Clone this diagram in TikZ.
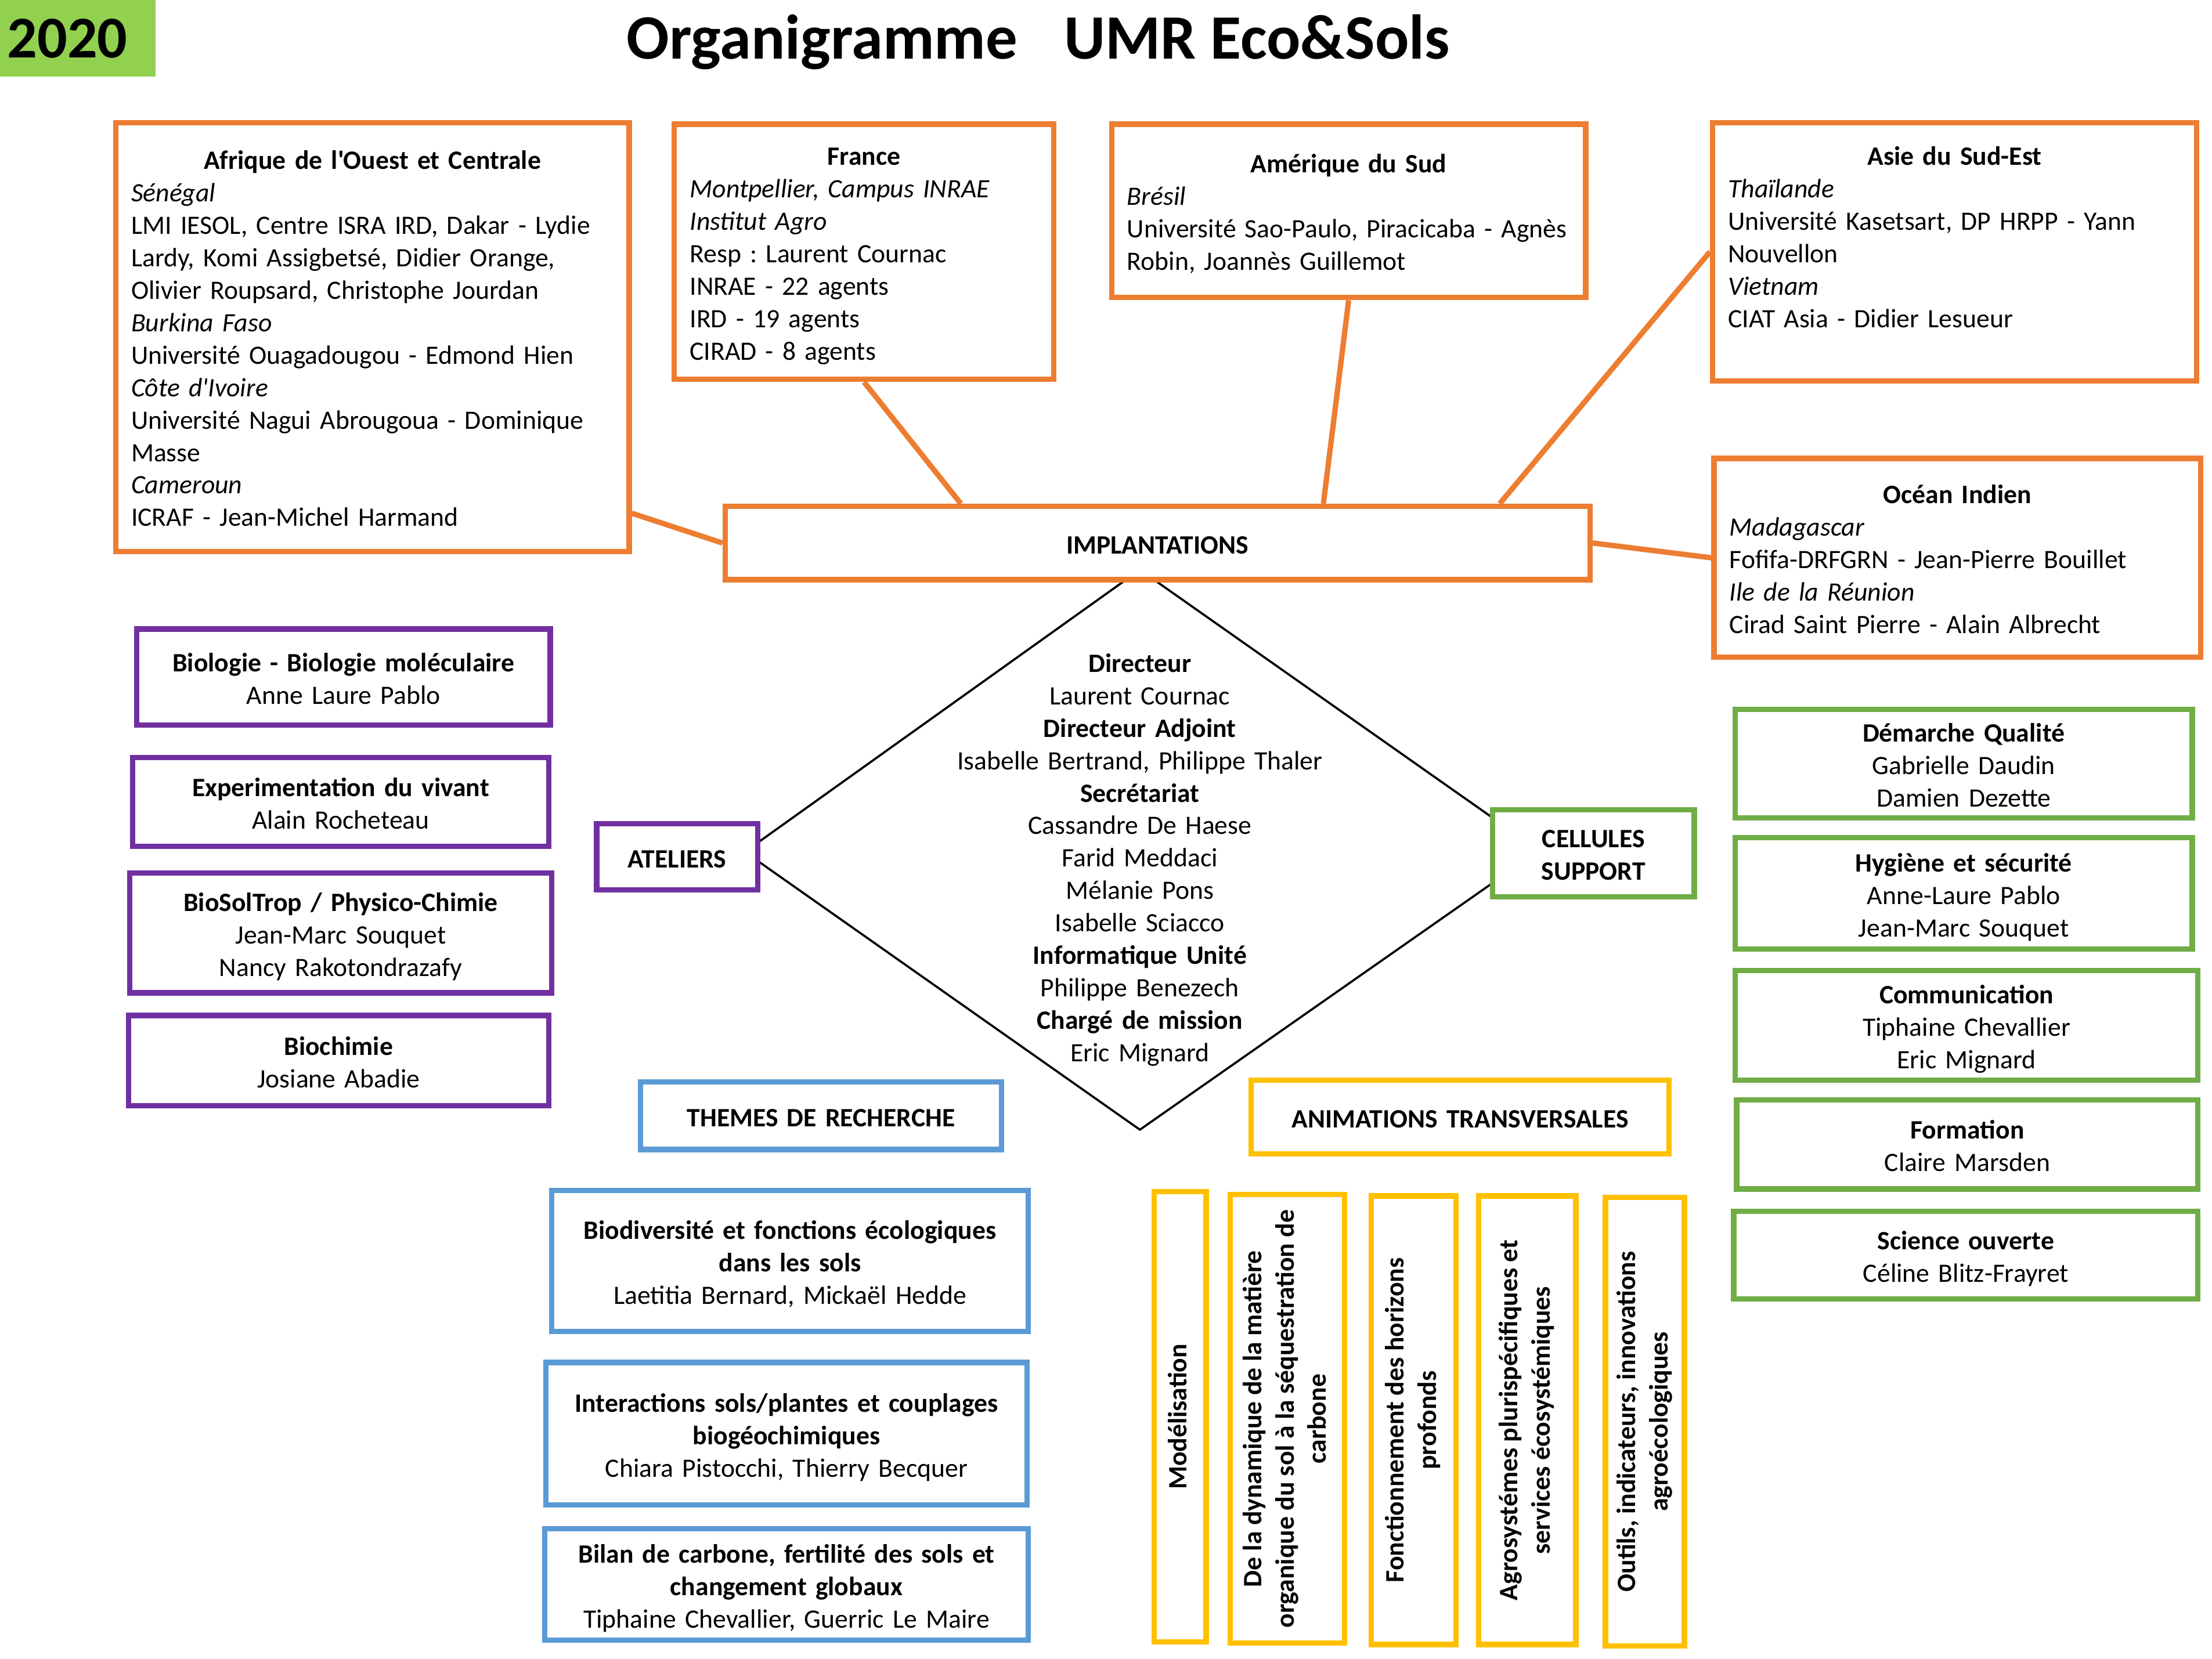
\documentclass[tikz,border=0pt]{standalone}
\usepackage{fontspec}
\setmainfont{Carlito}
\newfontfamily\calfont{Carlito}
\usetikzlibrary{calc,backgrounds}
\definecolor{corange}{HTML}{ED7D31}
\definecolor{cpurple}{HTML}{7030A0}
\definecolor{cgreen}{HTML}{70AD47}
\definecolor{cblue}{HTML}{5B9BD5}
\definecolor{cyellow}{HTML}{FFC000}
\definecolor{cyear}{HTML}{92D050}
\frenchspacing
\newcommand\Sa{\rule[-3.9pt]{0pt}{23pt}}
\newcommand\Ttl[1]{\makebox[\hsize][c]{\bfseries #1}}
\newcommand\vtext[1]{\rotatebox{90}{\bfseries\begin{tabular}{@{}c@{}}#1\end{tabular}}}
% \mkbox{style}{name}{x1}{y1}{x2}{y2}{text}
\newcommand\mkbox[7]{\node[#1, minimum width={#5-#3}, minimum height={#6-#4}] (#2) at ({(#3+#5)/2},{(#4+#6)/2}) {#7};}
\tikzset{
  txt/.style={font=\calfont\frenchspacing\fontsize{18.8}{23}\selectfont, inner sep=0pt},
  bx/.style={txt, draw, line width=3.8pt, fill=white},
  ob/.style={bx, draw=corange},
  pb/.style={bx, draw=cpurple},
  gb/.style={bx, draw=cgreen},
  bb/.style={bx, draw=cblue},
  yb/.style={bx, draw=cyellow},
  con/.style={draw=corange, line width=3.8pt},
  dia/.style={draw=black, line width=1.5pt},
  big/.style={font=\calfont\bfseries\fontsize{44.8}{52}\selectfont, inner sep=0pt}
}
\begin{document}
\begin{tikzpicture}[x=1pt,y=-1pt]
\useasboundingbox (0,0) rectangle (1568,1176);

% year and title
\node[big, font=\calfont\bfseries\fontsize{42}{50}\selectfont, fill=cyear, anchor=north west,
      minimum width=110pt, minimum height=54pt,
      text width=100pt, inner xsep=5pt, align=left] (year) at (0,0) {2020};
\node[big] (title) at (736,30) {Organigramme\hspace{33pt}UMR Eco\&Sols};

% implantations (orange)
\mkbox{ob, text width=342pt, align=left}{afr}{82}{87}{446}{391}
 {\Sa\Ttl{Afrique de l'Ouest et Centrale}\\
  \textit{Sénégal}\\
  LMI IESOL, Centre ISRA IRD, Dakar - Lydie\\
  Lardy, Komi Assigbetsé, Didier Orange,\\
  Olivier Roupsard, Christophe Jourdan\\
  \textit{Burkina Faso}\\
  Université Ouagadougou - Edmond Hien\\
  \textit{Côte d'Ivoire}\\
  Université Nagui Abrougoua - Dominique\\
  Masse\\
  \textit{Cameroun}\\
  ICRAF - Jean-Michel Harmand\Sa}
\mkbox{ob, text width=247pt, align=left}{fra}{478}{88}{747}{269}
 {\Sa\Ttl{France}\\
  \textit{Montpellier, Campus INRAE}\\
  \textit{Institut Agro}\\
  Resp : Laurent Cournac\\
  INRAE - 22 agents\\
  IRD - 19 agents\\
  CIRAD - 8 agents\Sa}
\mkbox{ob, text width=314pt, align=left}{ams}{788}{88}{1124}{211}
 {\Sa\Ttl{Amérique du Sud}\\
  \textit{Brésil}\\
  Université Sao-Paulo, Piracicaba - Agnès\\
  Robin, Joannès Guillemot\Sa}
\mkbox{ob, text width=321pt, align=left}{ase}{1214}{87}{1557}{270}
 {\Sa\Ttl{Asie du Sud-Est}\\
  \textit{Thaïlande}\\
  Université Kasetsart, DP HRPP - Yann\\
  Nouvellon\\
  \textit{Vietnam}\\
  CIAT Asia - Didier Lesueur\\
  \Sa}
\mkbox{ob, text width=323pt, align=left}{oce}{1215}{325}{1560}{466}
 {\Sa\Ttl{Océan Indien}\\
  \textit{Madagascar}\\
  Fofifa-DRFGRN - Jean-Pierre Bouillet\\
  \textit{Ile de la Réunion}\\
  Cirad Saint Pierre - Alain Albrecht\Sa}
\mkbox{ob, text width=590pt, align=center}{impl}{514}{359}{1127}{411}
 {\Sa\textbf{IMPLANTATIONS}\Sa}

% direction
\coordinate (dT) at (808,404);
\coordinate (dR) at (1091,603);
\coordinate (dB) at (808,801);
\coordinate (dL) at (528,604);
\node[txt, text width=300pt, align=center] (dir) at (808,607)
 {\Sa\textbf{Directeur}\\
  Laurent Cournac\\
  \textbf{Directeur Adjoint}\\
  Isabelle Bertrand, Philippe Thaler\\
  \textbf{Secrétariat}\\
  Cassandre De Haese\\
  Farid Meddaci\\
  Mélanie Pons\\
  Isabelle Sciacco\\
  \textbf{Informatique Unité}\\
  Philippe Benezech\\
  \textbf{Chargé de mission}\\
  Eric Mignard\Sa};

% ateliers (purple)
\mkbox{pb, text width=110pt, align=center}{atel}{423}{584}{537}{631}
 {\Sa\textbf{ATELIERS}\Sa}
\mkbox{pb, text width=285pt, align=center}{p1}{97}{446}{390}{514}
 {\Sa\textbf{Biologie - Biologie moléculaire}\\Anne Laure Pablo\Sa}
\mkbox{pb, text width=285pt, align=center}{p2}{94}{537}{389}{600}
 {\Sa\textbf{Experimentation du vivant}\\Alain Rocheteau\Sa}
\mkbox{pb, text width=290pt, align=center}{p3}{92}{619}{391}{704}
 {\Sa\textbf{BioSolTrop / Physico-Chimie}\\Jean-Marc Souquet\\Nancy Rakotondrazafy\Sa}
\mkbox{pb, text width=290pt, align=center}{p4}{91}{720}{389}{784}
 {\Sa\textbf{Biochimie}\\Josiane Abadie\Sa}

% cellules support (green)
\mkbox{gb, text width=135pt, align=center}{cell}{1058}{574}{1201}{636}
 {\Sa\textbf{CELLULES}\\\textbf{SUPPORT}\Sa}
\mkbox{gb, text width=315pt, align=center}{g1}{1230}{503}{1554}{580}
 {\Sa\textbf{Démarche Qualité}\\Gabrielle Daudin\\Damien Dezette\Sa}
\mkbox{gb, text width=315pt, align=center}{g2}{1230}{594}{1554}{673}
 {\Sa\textbf{Hygiène et sécurité}\\Anne-Laure Pablo\\Jean-Marc Souquet\Sa}
\mkbox{gb, text width=320pt, align=center}{g3}{1230}{688}{1558}{766}
 {\Sa\textbf{Communication}\\Tiphaine Chevallier\\Eric Mignard\Sa}
\mkbox{gb, text width=320pt, align=center}{g4}{1231}{780}{1558}{843}
 {\Sa\textbf{Formation}\\Claire Marsden\Sa}
\mkbox{gb, text width=320pt, align=center}{g5}{1229}{859}{1558}{921}
 {\Sa\textbf{Science ouverte}\\Céline Blitz-Frayret\Sa}

% themes de recherche (blue)
\mkbox{bb, text width=250pt, align=center}{themes}{454}{767}{710}{815}
 {\Sa\textbf{THEMES DE RECHERCHE}\Sa}
\mkbox{bb, text width=330pt, align=center}{b1}{391}{844}{729}{944}
 {\Sa\textbf{Biodiversité et fonctions écologiques}\\\textbf{dans les sols}\\Laetitia Bernard, Mickaël Hedde\Sa}
\mkbox{bb, text width=335pt, align=center}{b2}{387}{966}{728}{1067}
 {\Sa\textbf{Interactions sols/plantes et couplages}\\\textbf{biogéochimiques}\\Chiara Pistocchi, Thierry Becquer\Sa}
\mkbox{bb, text width=335pt, align=center}{b3}{386}{1084}{729}{1163}
 {\Sa\textbf{Bilan de carbone, fertilité des sols et}\\\textbf{changement globaux}\\Tiphaine Chevallier, Guerric Le Maire\Sa}

% animations transversales (yellow)
\mkbox{yb, text width=290pt, align=center}{anim}{887}{766}{1183}{818}
 {\Sa\textbf{ANIMATIONS TRANSVERSALES}\Sa}
\mkbox{yb}{y1}{818}{845}{855}{1164}{\vtext{Modélisation}}
\mkbox{yb}{y2}{872}{847}{953}{1165}
 {\vtext{De la dynamique de la matière\\organique du sol à la séquestration de\\carbone}}
\mkbox{yb}{y3}{972}{848}{1032}{1166}
 {\vtext{Fonctionnement des horizons\\profonds}}
\mkbox{yb}{y4}{1048}{848}{1117}{1166}
 {\vtext{Agrosystémes plurispécifiques et\\services écosystémiques}}
\mkbox{yb}{y5}{1138}{849}{1194}{1167}
 {\vtext{Outils, indicateurs, innovations\\agroécologiques}}

% connectors and diamond behind the boxes
\begin{scope}[on background layer]
  \draw[dia] (dT) -- (dR) -- (dB) -- (dL) -- cycle;
  \draw[con] ($(afr.south east)+(0,-29)$) -- (impl.west);
  \draw[con] (fra.south) -- ($(impl.north west)+(169,0)$);
  \draw[con] (ams.south) -- ($(impl.north west)+(426,0)$);
  \draw[con] (ase.west) -- ($(impl.north west)+(551,0)$);
  \draw[con] (oce.west) -- (impl.east);
\end{scope}
\end{tikzpicture}
\end{document}
